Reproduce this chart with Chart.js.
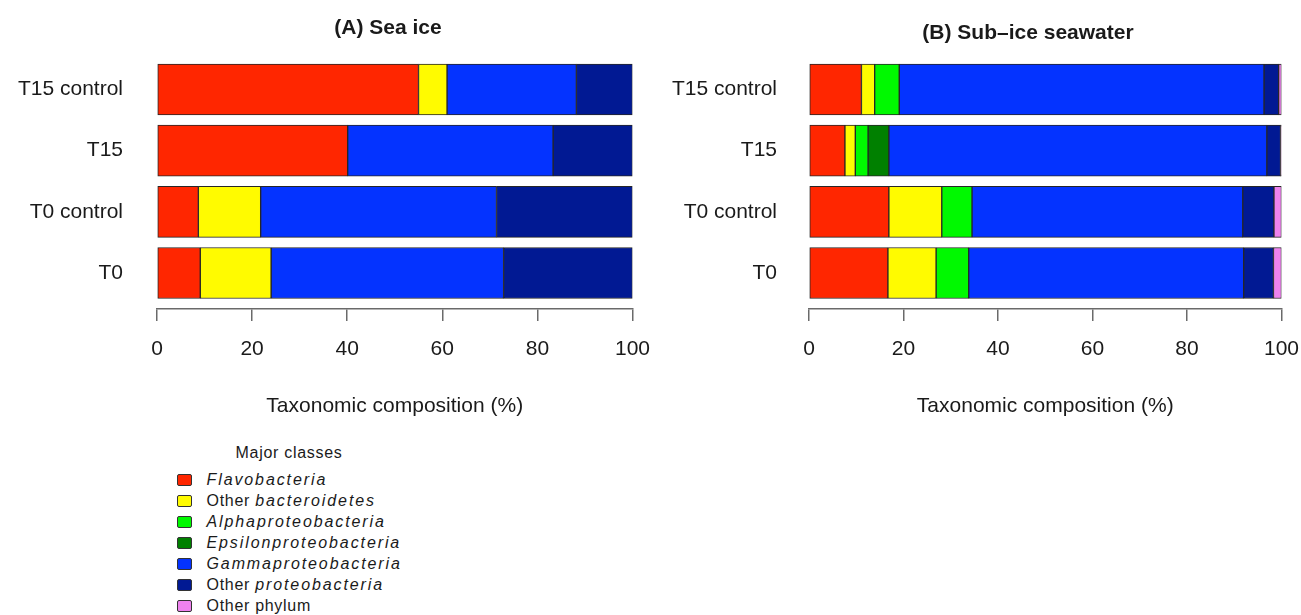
<!DOCTYPE html>
<html>
<head>
<meta charset="utf-8">
<script src="https://cdn.jsdelivr.net/npm/chart.js@4/dist/chart.umd.min.js"></script>
<style>
  html, body { margin: 0; padding: 0; background: #fff; }
  body { width: 1301px; height: 615px; position: relative; overflow: hidden;
         font-family: "Liberation Sans", Arial, Helvetica, sans-serif; color: #1a1a1a; }
  canvas { position: absolute; top: 0; }
  .panel-title { position: absolute; font-weight: bold; font-size: 21px; line-height: 21px;
                 white-space: nowrap; transform: translateX(-50%); }
  #legend { position: absolute; left: 0; top: 0; }
  .legend-head { position: absolute; font-size: 16px; line-height: 16px; letter-spacing: 0.7px;
                 white-space: nowrap; transform: translateX(-50%); }
  .legend-row { position: absolute; font-size: 16px; line-height: 16px; white-space: nowrap;
                letter-spacing: 0.7px; }
  .legend-row i { letter-spacing: 1.9px; }
  .swatch { position: absolute; width: 13px; height: 10px; border: 1px solid #333; border-radius: 2px; }
</style>
</head>
<body>
<canvas id="seaIce" width="666" height="440" style="left:0"></canvas>
<canvas id="seawater" width="665" height="440" style="left:650px"></canvas>
<div class="panel-title" style="left:388px; top:15.5px">(A) Sea ice</div>
<div class="panel-title" style="left:1028px; top:20.5px">(B) Sub–ice seawater</div>
<div id="legend"></div>
<script>
// Samples, top to bottom
const samples = ['T15 control', 'T15', 'T0 control', 'T0'];
const axisTicks = [0, 20, 40, 60, 80, 100];

// Major classes: plain prefix + italic taxon name
const classPrefix = ['', 'Other ', '', '', '', 'Other ', 'Other phylum'];
const classTaxon  = ['Flavobacteria', 'bacteroidetes', 'Alphaproteobacteria', 'Epsilonproteobacteria',
                     'Gammaproteobacteria', 'proteobacteria', ''];
const classColors = ['#FF2600', '#FFFB00', '#00F900', '#008000', '#0433FF', '#011993', '#EE82EE'];

// (A) Sea ice composition (%)
const iceFlavo       = [55.0, 40.1,  8.7,  9.1];
const iceOtherBact   = [ 6.0,  0.0, 13.1, 14.9];
const iceAlpha       = [ 0.0,  0.0,  0.0,  0.0];
const iceEpsilon     = [ 0.0,  0.0,  0.0,  0.0];
const iceGamma       = [27.2, 43.2, 49.6, 48.9];
const iceOtherProteo = [11.8, 16.7, 28.6, 27.1];
const iceOtherPhylum = [ 0.0,  0.0,  0.0,  0.0];

// (B) Sub-ice seawater composition (%)
const swFlavo       = [11.1,  7.6, 16.9, 16.7];
const swOtherBact   = [ 2.8,  2.2, 11.2, 10.2];
const swAlpha       = [ 5.2,  2.7,  6.4,  6.9];
const swEpsilon     = [ 0.0,  4.4,  0.0,  0.0];
const swGamma       = [77.2, 80.0, 57.3, 58.2];
const swOtherProteo = [ 3.1,  2.9,  6.6,  6.3];
const swOtherPhylum = [ 0.6,  0.2,  1.6,  1.7];

const iceSeries = [iceFlavo, iceOtherBact, iceAlpha, iceEpsilon, iceGamma, iceOtherProteo, iceOtherPhylum];
const swSeries  = [swFlavo, swOtherBact, swAlpha, swEpsilon, swGamma, swOtherProteo, swOtherPhylum];

const FONT = '"Liberation Sans", Arial, Helvetica, sans-serif';
const INK = '#1a1a1a';
const AXIS = '#6a6a6a';

function buildChart(canvasId, series, geom) {
  const datasets = series.map((vals, k) => ({
    label: (classPrefix[k] + classTaxon[k]).trim(),
    data: vals.map((v, i) => ({ x: v, y: i })),
    backgroundColor: classColors[k],
    borderColor: '#262626',
    borderWidth: 1,
    borderSkipped: false,
    barThickness: 51,
    stack: 'composition'
  }));
  return new Chart(document.getElementById(canvasId), {
    type: 'bar',
    data: { datasets },
    options: {
      indexAxis: 'y',
      responsive: false,
      animation: false,
      layout: { padding: { top: 55, right: 0, bottom: 21.6, left: 0 } },
      plugins: { legend: { display: false }, tooltip: { enabled: false } },
      scales: {
        x: {
          type: 'linear', stacked: true, min: 0, max: 100,
          afterBuildTicks: s => { s.ticks = axisTicks.map(v => ({ value: v })); },
          border: { display: true, color: AXIS, width: 1.5 },
          grid: { display: true, drawOnChartArea: false, drawTicks: true, tickLength: 12,
                  color: AXIS, lineWidth: 1.5 },
          ticks: { font: { family: FONT, size: 21 }, color: INK, padding: 16, maxRotation: 0 },
          title: { display: true, text: 'Taxonomic composition (%)', color: INK,
                   font: { family: FONT, size: 21 }, padding: { top: 15, bottom: 0 } }
        },
        y: {
          type: 'linear', reverse: true, offset: false, min: -0.564, max: 3.589,
          afterBuildTicks: s => { s.ticks = samples.map((_, i) => ({ value: i })); },
          afterFit: s => { s.width = geom.axisWidth; },
          border: { display: false },
          grid: { display: false, drawTicks: false },
          ticks: { autoSkip: false, font: { family: FONT, size: 21 }, color: INK,
                   padding: geom.labelGap, callback: v => samples[v] }
        }
      }
    }
  });
}

buildChart('seaIce', iceSeries, { axisWidth: 157, labelGap: 34 });
buildChart('seawater', swSeries, { axisWidth: 159, labelGap: 32 });

// Legend of major classes
const legend = document.getElementById('legend');
const head = document.createElement('div');
head.className = 'legend-head';
head.style.left = '289px';
head.style.top = '444.5px';
head.textContent = 'Major classes';
legend.appendChild(head);
classColors.forEach((c, k) => {
  const baseline = 485 + k * 21;
  const sw = document.createElement('div');
  sw.className = 'swatch';
  sw.style.left = '177px';
  sw.style.top = (baseline - 11.5) + 'px';
  sw.style.background = c;
  legend.appendChild(sw);
  const row = document.createElement('div');
  row.className = 'legend-row';
  row.style.left = '206.5px';
  row.style.top = (baseline - 13.5) + 'px';
  if (classPrefix[k]) row.appendChild(document.createTextNode(classPrefix[k]));
  if (classTaxon[k]) {
    const it = document.createElement('i');
    it.textContent = classTaxon[k];
    row.appendChild(it);
  }
  legend.appendChild(row);
});
</script>
</body>
</html>
